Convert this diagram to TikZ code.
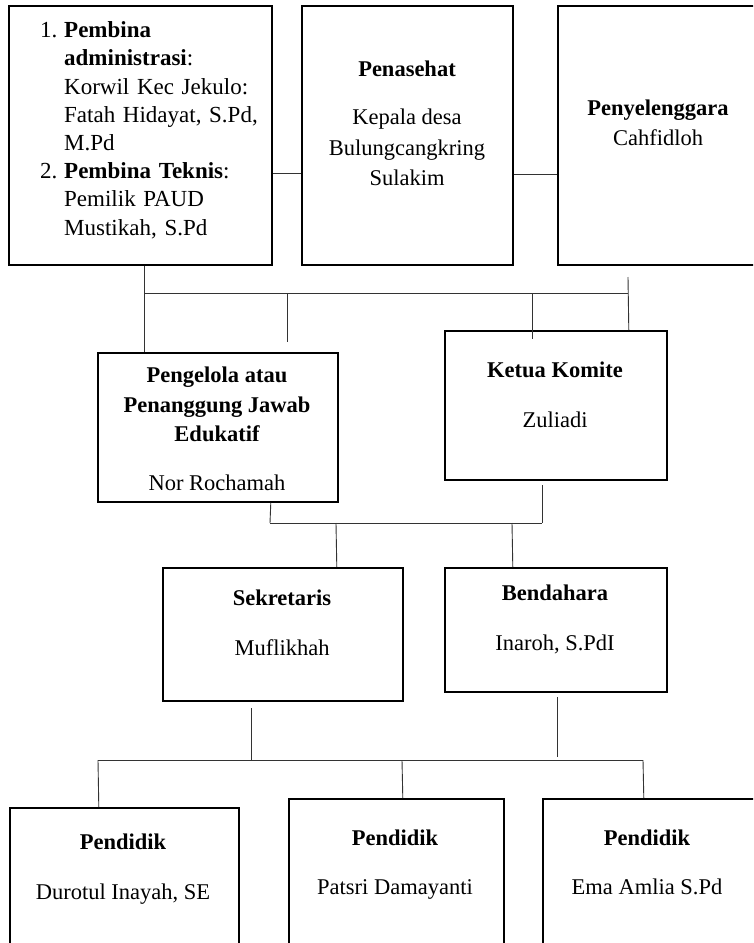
\documentclass[tikz,border=0pt]{standalone}
\usepackage{fontspec}
\setmainfont{Liberation Serif}
\newcommand{\jline}[1]{\makebox[193pt][s]{#1}}
\tikzset{
  box/.style={draw=black, line width=1.6pt, inner sep=0pt, anchor=north west},
  conn/.style={draw=black!80, line width=0.9pt},
  ttl/.style={anchor=base, inner sep=0pt, font=\fontsize{22.5}{27}\selectfont\bfseries},
  txt/.style={anchor=base, inner sep=0pt, font=\fontsize{22.5}{27}\selectfont},
}
\begin{document}
\begin{tikzpicture}[x=1pt,y=-1pt]
\useasboundingbox (0,0) rectangle (753,943);
\clip (0,0) rectangle (753,943);
\fill[white] (0,0) rectangle (753,943);

% ---------- boxes ----------
\node[box, minimum width=263pt, minimum height=259pt] (b1) at (8,5) {};
\node[box, minimum width=211pt, minimum height=259pt] (b2) at (301,5) {};
\node[box, minimum width=218pt, minimum height=259pt] (b3) at (557,5) {};
\node[box, minimum width=240pt, minimum height=149pt] (pg) at (97,352) {};
\node[box, minimum width=222pt, minimum height=149pt] (kk) at (444,330) {};
\node[box, minimum width=240pt, minimum height=133pt] (sk) at (162,567) {};
\node[box, minimum width=222pt, minimum height=124pt] (bd) at (444,567) {};
\node[box, minimum width=229pt, minimum height=160pt] (p1) at (9,807) {};
\node[box, minimum width=215pt, minimum height=170pt] (p2) at (288,798) {};
\node[box, minimum width=228pt, minimum height=170pt] (p3) at (542,798) {};

% ---------- texts ----------
\node[anchor=north west, inner sep=0pt, text width=220pt, align=left,
      font=\fontsize{23}{28.2}\selectfont] (b1t) at (40,21.5)
{\makebox[24pt][l]{1.}\textbf{Pembina}\\
 \hspace*{24pt}\textbf{administrasi}:\\
 \hspace*{24pt}\jline{Korwil Kec Jekulo:}\\
 \hspace*{24pt}\jline{Fatah Hidayat, S.Pd,}\\
 \hspace*{24pt}M.Pd\\
 \makebox[24pt][l]{2.}\jline{\textbf{Pembina} \textbf{Teknis}:}\\
 \hspace*{24pt}\jline{Pemilik PAUD}\\
 \hspace*{24pt}Mustikah, S.Pd};

\node[ttl] (b2t) at (407,76) {Penasehat};
\node[txt] (b2a) at (407,124) {Kepala desa};
\node[txt] (b2b) at (407,155) {Bulungcangkring};
\node[txt] (b2c) at (407,185) {Sulakim};

\node[ttl] (b3t) at (658,115) {Penyelenggara};
\node[txt] (b3a) at (658,145) {Cahfidloh};

\node[ttl] (pgt) at (217,382) {Pengelola atau};
\node[ttl] (pgu) at (217,412) {Penanggung Jawab};
\node[ttl] (pgv) at (217,441) {Edukatif};
\node[txt] (pga) at (217,490) {Nor Rochamah};

\node[ttl] (kkt) at (555,377) {Ketua Komite};
\node[txt] (kka) at (555,427) {Zuliadi};

\node[ttl] (skt) at (282,605) {Sekretaris};
\node[txt] (ska) at (282,655) {Muflikhah};

\node[ttl] (bdt) at (555,600) {Bendahara};
\node[txt] (bda) at (555,650) {Inaroh, S.PdI};

\node[ttl] (p1t) at (123,849) {Pendidik};
\node[txt] (p1a) at (123,899) {Durotul Inayah, SE};
\node[ttl] (p2t) at (395,845) {Pendidik};
\node[txt] (p2a) at (395,894) {Patsri Damayanti};
\node[ttl] (p3t) at (647,845) {Pendidik};
\node[txt] (p3a) at (647,894) {Ema Amlia S.Pd};

% ---------- free connector ends ----------
\coordinate (j1) at (144,293);
\coordinate (j2) at (628,293);
\coordinate (j3) at (287,293);
\coordinate (e3) at (287,342);
\coordinate (j4) at (532,293);
\coordinate (e4) at (532,339);
\coordinate (e5) at (628,277);
\coordinate (k1) at (270,523);
\coordinate (k2) at (542,523);
\coordinate (e6) at (542,485);
\coordinate (k3) at (336,523);
\coordinate (k4) at (512,523);
\coordinate (m1) at (251,708);
\coordinate (m2) at (251,760);
\coordinate (m3) at (557,697);
\coordinate (m4) at (557,757);
\coordinate (n1) at (98,760);
\coordinate (n2) at (643,760);
\coordinate (n3) at (402,760);

% ---------- connectors ----------
\draw[conn] ([yshift=-38.5pt]b1.east) -- ([yshift=-38.5pt]b2.west);
\draw[conn] ([yshift=-39.5pt]b2.east) -- ([yshift=-39.5pt]b3.west);
\draw[conn] ([xshift=4.5pt]b1.south) -- ([xshift=-73pt]pg.north);
\draw[conn] (j1) -- (j2);
\draw[conn] (j3) -- (e3);
\draw[conn] (j4) -- (e4);
\draw[conn] (e5) -- ([xshift=73pt]kk.north);
\draw[conn] ([xshift=53pt]pg.south) -- (k1);
\draw[conn] (k1) -- (k2);
\draw[conn] (e6) -- (k2);
\draw[conn] (k3) -- ([xshift=54pt]sk.north);
\draw[conn] (k4) -- ([xshift=-43pt]bd.north);
\draw[conn] (m1) -- (m2);
\draw[conn] (m3) -- (m4);
\draw[conn] (n1) -- (n2);
\draw[conn] (n1) -- ([xshift=-25.5pt]p1.north);
\draw[conn] (n3) -- ([xshift=6.5pt]p2.north);
\draw[conn] (n2) -- ([xshift=-13pt]p3.north);
\end{tikzpicture}
\end{document}
